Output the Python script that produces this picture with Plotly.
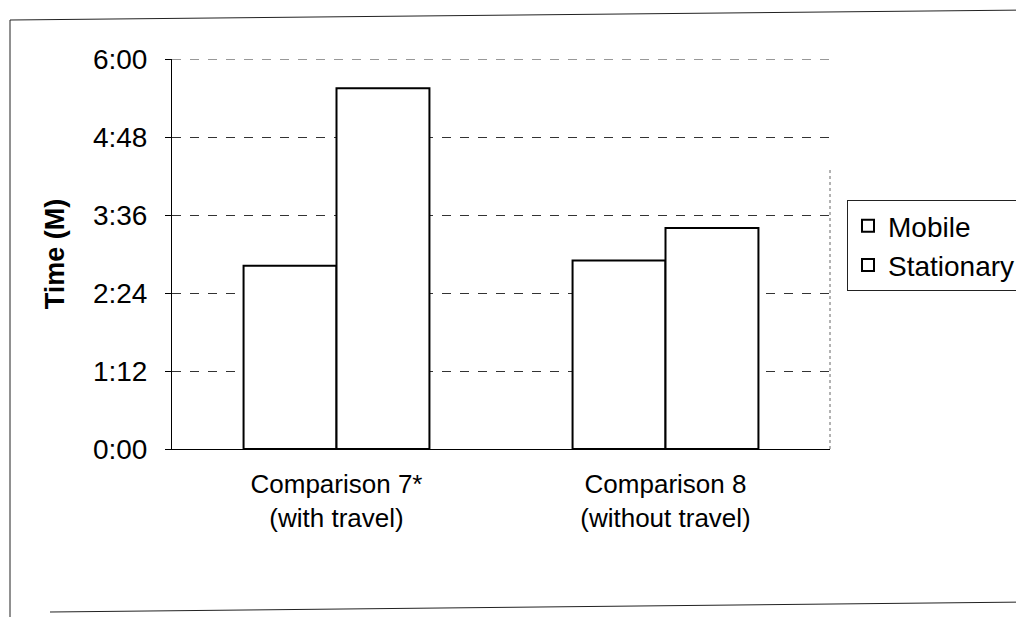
import plotly.graph_objects as go

categories = ["Comparison 7*<br>(with travel)", "Comparison 8<br>(without travel)"]
series_names = ["Mobile", "Stationary"]
# times in minutes (decimal)
mobile_min = [2.82, 2.90]
stationary_min = [5.55, 3.40]
tick_vals = [0, 1.2, 2.4, 3.6, 4.8, 6.0]
tick_text = ["0:00", "1:12", "2:24", "3:36", "4:48", "6:00"]

FONT = "Liberation Sans, Arial, sans-serif"

fig = go.Figure()
for name, vals in zip(series_names, [mobile_min, stationary_min]):
    fig.add_trace(go.Bar(
        x=categories, y=vals, name=name,
        marker=dict(color="white", line=dict(color="black", width=2)),
    ))

def px(X):
    return (X - 172) / 658.0

def py(Y):
    return (449 - Y) / 390.0

frame = dict(color="#222", width=1)
fig.update_layout(
    width=1024, height=617,
    margin=dict(l=164, r=202, t=51, b=176, autoexpand=False),
    paper_bgcolor="white", plot_bgcolor="white",
    barmode="group", bargap=0.435, bargroupgap=0,
    font=dict(family=FONT, color="black", size=24),
    showlegend=True,
    legend=dict(
        x=px(847), y=py(200), xanchor="left", yanchor="top",
        bordercolor="#222", borderwidth=1, bgcolor="white",
        font=dict(size=28, family=FONT),
        itemwidth=30,
    ),
    xaxis=dict(
        showline=True, linecolor="black", linewidth=1,
        ticks="", tickfont=dict(size=26),
        showgrid=False, ticklabelstandoff=12, automargin=False,
    ),
    yaxis=dict(
        range=[0, 6.0], tickvals=tick_vals, ticktext=tick_text,
        showline=True, linecolor="black", linewidth=1,
        ticks="outside", ticklen=6, tickcolor="black",
        showgrid=True, gridcolor="#333", gridwidth=1, griddash="dash",
        tickfont=dict(size=28), ticklabelstandoff=12,
        title=dict(text="<b>Time (M)</b>", font=dict(size=27), standoff=20),
        zeroline=False, automargin=False,
    ),
    shapes=[
        # top gridline at 6:00
        dict(type="line", xref="paper", yref="y", x0=0, x1=1, y0=6.0, y1=6.0,
             line=dict(color="#333", width=1, dash="dash")),
        # right border of plot area (dotted)
        dict(type="line", xref="paper", yref="paper", x0=1, x1=1, y0=0, y1=py(170),
             line=dict(color="#666", width=1, dash="dot")),
        # outer frame
        dict(type="line", xref="paper", yref="paper", x0=px(10), x1=px(10), y0=py(617), y1=py(20),
             line=frame),
        dict(type="line", xref="paper", yref="paper", x0=px(10), x1=px(1030), y0=py(20), y1=py(10),
             line=frame),
        dict(type="line", xref="paper", yref="paper", x0=px(50), x1=px(1030), y0=py(612), y1=py(602),
             line=frame),
    ],
)

fig.write_html("out.html")
